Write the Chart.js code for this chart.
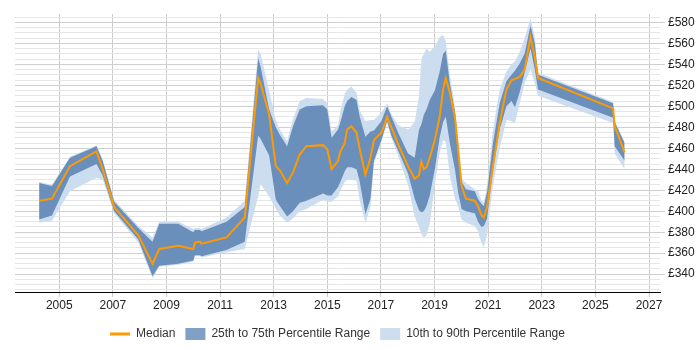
<!DOCTYPE html>
<html>
<head>
<meta charset="utf-8">
<script src="https://cdn.jsdelivr.net/npm/chart.js@4.4.1/dist/chart.umd.min.js"></script>
<style>
html,body{margin:0;padding:0;background:#fff;}
#wrap{width:700px;height:350px;position:relative;}
</style>
</head>
<body>
<div id="wrap"><canvas id="c"></canvas></div>
<script>
const years = [2004.25,2004.73,2005.40,2006.39,2006.62,2007.05,2007.95,2008.48,2008.73,2009.44,2010.00,2010.06,2010.25,2010.31,2011.24,2011.92,2012.42,2012.51,2012.83,2013.08,2013.23,2013.50,2013.72,2013.97,2014.22,2014.84,2015.00,2015.16,2015.40,2015.49,2015.65,2015.74,2015.90,2016.09,2016.21,2016.42,2016.61,2016.74,2017.02,2017.23,2017.39,2017.64,2018.01,2018.26,2018.42,2018.51,2018.60,2018.70,2018.82,2019.01,2019.19,2019.32,2019.42,2019.57,2019.76,2019.88,2020.01,2020.17,2020.50,2020.62,2020.75,2020.84,2020.96,2021.18,2021.43,2021.68,2021.87,2022.00,2022.18,2022.36,2022.58,2022.74,2022.86,2025.66,2025.72,2026.09];
const median = [410,412,443,457,440,404,377,350,364,367,364,370,371,369,375,394,527,522,492,443,439,427,437,454,462,463,459,440,448,457,465,478,481,475,459,435,451,468,475,490,480,464,443,431,434,447,440,442,451,468,490,516,527,513,490,459,424,412,410,405,396,394,404,443,484,516,525,526,528,535,566,547,527,498,481,456];
const p25 = [392,396,433,445,434,400,373,338,348,350,353,358,358,357,363,371,472,469,453,411,405,395,400,408,410,417,415,415,423,428,438,442,442,440,428,397,412,448,468,486,472,458,436,412,401,399,400,405,415,440,470,485,490,465,440,418,402,400,398,390,385,386,393,440,478,500,505,499,514,532,555,535,516,489,462,448];
const p75 = [427,424,451,462,448,409,384,371,388,388,380,382,382,381,390,404,546,538,497,480,473,462,481,497,500,501,497,470,478,485,500,505,509,506,490,471,476,477,486,500,490,475,455,451,478,483,492,497,506,515,533,550,553,522,495,463,428,421,419,412,407,405,418,465,503,524,530,534,541,550,577,560,530,503,485,465];
const p10 = [389,391,419,432,430,398,370,336,347,349,352,357,357,356,361,364,414,426,414,402,396,389,393,400,402,411,409,409,414,420,428,430,430,429,410,389,404,446,466,484,470,453,425,395,385,378,375,377,388,425,456,468,466,434,412,405,392,389,386,381,370,366,378,425,460,487,486,484,503,522,535,522,510,484,455,440];
const p90 = [428,425,452,463,449,411,386,375,390,390,383,384,384,383,394,410,554,550,515,487,478,467,488,505,508,507,503,476,482,496,512,516,519,513,496,486,487,487,494,503,493,482,478,485,510,545,550,555,552,557,566,568,562,530,500,468,431,427,421,420,410,408,425,478,516,533,540,543,552,565,584,566,532,504,486,466];
const xTickYears = [2005,2007,2009,2011,2013,2015,2017,2019,2021,2023,2025,2027];
const yTickValues = [340,360,380,400,420,440,460,480,500,520,540,560,580];
const legendLabels = ['Median','25th to 75th Percentile Range','10th to 90th Percentile Range'];

const ORANGE = '#ff9900';
const DARK = 'rgb(106,143,186)';
const LIGHT = 'rgb(204,221,239)';
const toPts = arr => arr.map((v,i)=>({x:years[i],y:v}));
const FONT = {family:"'Liberation Sans', Arial, sans-serif", size:12};

const legendCenter = {
  id:'legendCenter',
  afterLayout(chart){
    const lg = chart.legend, ca = chart.chartArea;
    if (lg && ca) { lg.left = ca.left; lg.right = ca.right; }
  }
};

new Chart(document.getElementById('c'), {
  type:'line',
  plugins:[legendCenter],
  data:{datasets:[
    {label:legendLabels[0], data:toPts(median), borderColor:ORANGE, backgroundColor:ORANGE, borderWidth:2, pointRadius:0, fill:false, tension:0},
    {label:legendLabels[1], data:toPts(p75), borderColor:'rgba(0,0,0,0)', backgroundColor:DARK, borderWidth:0, pointRadius:0, fill:'+1', tension:0},
    {label:'', data:toPts(p25), borderColor:'rgba(0,0,0,0)', backgroundColor:DARK, borderWidth:0, pointRadius:0, fill:false, tension:0},
    {label:legendLabels[2], data:toPts(p90), borderColor:'rgba(0,0,0,0)', backgroundColor:LIGHT, borderWidth:0, pointRadius:0, fill:'+1', tension:0},
    {label:'', data:toPts(p10), borderColor:'rgba(0,0,0,0)', backgroundColor:LIGHT, borderWidth:0, pointRadius:0, fill:false, tension:0}
  ]},
  options:{
    responsive:true, maintainAspectRatio:false, animation:false,
    layout:{padding:{left:15,top:14,right:0,bottom:0}},
    plugins:{
      tooltip:{enabled:false},
      legend:{
        position:'bottom',
        labels:{
          font:FONT, color:'#333', usePointStyle:true, pointStyleWidth:20, boxHeight:12, padding:10,
          generateLabels:()=>[
            {text:legendLabels[0], fillStyle:ORANGE, strokeStyle:ORANGE, lineWidth:3, pointStyle:'line', datasetIndex:0, hidden:false, fontColor:'#333'},
            {text:legendLabels[1], fillStyle:'rgb(128,160,198)', strokeStyle:'rgb(128,160,198)', lineWidth:0, pointStyle:'rect', datasetIndex:1, hidden:false, fontColor:'#333'},
            {text:legendLabels[2], fillStyle:'rgb(206,222,239)', strokeStyle:'rgb(206,222,239)', lineWidth:0, pointStyle:'rect', datasetIndex:3, hidden:false, fontColor:'#333'}
          ]
        }
      }
    },
    scales:{
      x:{
        type:'linear', position:'bottom', min:2003.35, max:2027.41,
        afterBuildTicks:s=>{s.ticks = xTickYears.map(v=>({value:v}));},
        afterFit:s=>{s.height = 26;},
        grid:{color:'#cccccc', tickLength:5, tickColor:'#cccccc'},
        border:{display:true, color:'#000', width:1},
        ticks:{font:FONT, color:'#222', autoSkip:false, maxRotation:0, padding:1, callback:v=>String(v)}
      },
      y:{
        type:'linear', position:'right', min:323, max:588,
        afterBuildTicks:s=>{const t=[]; for(let v=325; v<=585; v+=5) t.push({value:v}); s.ticks=t;},
        afterFit:s=>{s.width = 40;},
        grid:{
          color:c=>(yTickValues.includes(c.tick.value)?'#cfcfcf':'#e6e6e6'),
          tickLength:5,
          tickColor:c=>(yTickValues.includes(c.tick.value)?'#cfcfcf':'rgba(0,0,0,0)')
        },
        border:{display:false},
        ticks:{font:FONT, color:'#222', autoSkip:false, padding:3, callback:v=>(yTickValues.includes(v)?'£'+v:'')}
      }
    }
  }
});
</script>
</body>
</html>
